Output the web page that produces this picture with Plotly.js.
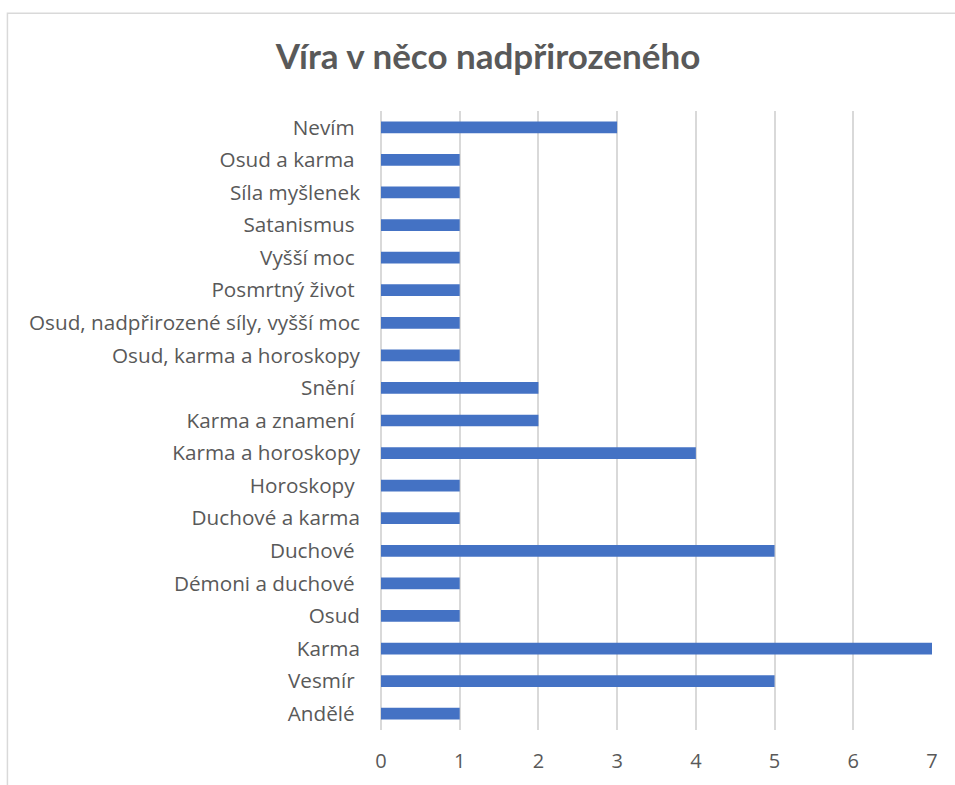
<!DOCTYPE html>
<html>
<head>
<meta charset="utf-8">
<script src="https://cdn.plot.ly/plotly-3.0.1.min.js"></script>
<style>
  body { margin: 0; background: #fff; }
  #chart { width: 955px; height: 785px; }
</style>
</head>
<body>
<div id="chart"></div>
<script>
// categories bottom -> top, as in the sheet
var categories = [
    'Andělé\u00a0', 'Vesmír\u00a0', 'Karma', 'Osud', 'Démoni a duchové\u00a0',
    'Duchové\u00a0', 'Duchové a karma', 'Horoskopy\u00a0', 'Karma a horoskopy',
    'Karma a znamení\u00a0', 'Snění\u00a0', 'Osud, karma a horoskopy',
    'Osud, nadpřirozené síly, vyšší moc', 'Posmrtný život\u00a0', 'Vyšší moc\u00a0',
    'Satanismus\u00a0', 'Síla myšlenek', 'Osud a karma\u00a0', 'Nevím\u00a0'
];
var counts = [1, 5, 7, 1, 1, 5, 1, 1, 4, 2, 2, 1, 1, 1, 1, 1, 1, 1, 3];
var xTicks = [0, 1, 2, 3, 4, 5, 6, 7];

var trace1 = {
    type: 'bar',
    orientation: 'h',
    x: counts,
    y: categories,
    marker: {color: '#4472C4'},
    hoverinfo: 'x+y'
};

var layout1 = {
    width: 955,
    height: 785,
    paper_bgcolor: '#fff',
    plot_bgcolor: '#fff',
    showlegend: false,
    bargap: 0.64,
    font: {family: '"Open Sans", sans-serif', color: '#595959'},
    title: {
        text: 'Víra v něco nadpřirozeného',
        font: {family: 'Lato, "Open Sans", sans-serif', size: 35, color: '#595959', weight: 'bold'},
        x: 0.511,
        xanchor: 'center',
        y: 0.928,
        yanchor: 'middle'
    },
    margin: {l: 381, r: 23, t: 111, b: 55, pad: 0},
    xaxis: {
        range: [0, 7],
        tickvals: xTicks,
        showgrid: true,
        gridcolor: '#d9d9d9',
        gridwidth: 1.5,
        zeroline: true,
        zerolinecolor: '#d9d9d9',
        zerolinewidth: 1.5,
        showline: false,
        ticks: '',
        ticklabelstandoff: 17,
        tickfont: {size: 20, color: '#595959'}
    },
    yaxis: {
        type: 'category',
        showgrid: false,
        zeroline: false,
        showline: false,
        ticks: '',
        ticklabelstandoff: 20,
        tickfont: {size: 20.7, color: '#595959'}
    },
    shapes: [{
        type: 'rect',
        xref: 'paper', yref: 'paper',
        x0: -0.678, x1: 1.2,
        y0: -0.2, y1: 1.158,
        line: {color: '#d9d9d9', width: 1.5},
        fillcolor: 'rgba(0,0,0,0)',
        layer: 'below'
    }]
};

Plotly.newPlot('chart', [trace1], layout1, {displayModeBar: false});
</script>
</body>
</html>
